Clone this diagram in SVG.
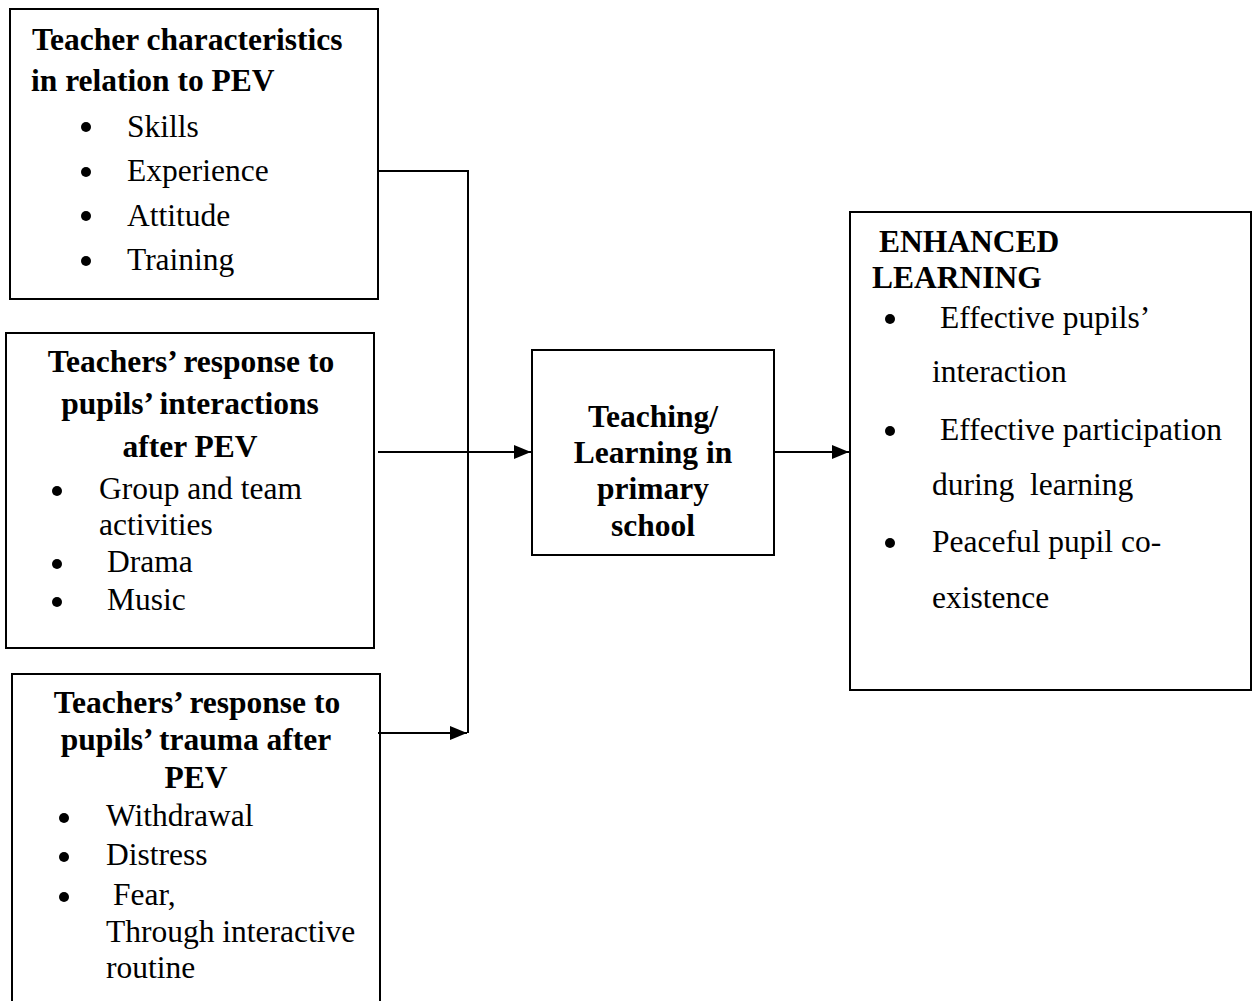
<svg xmlns="http://www.w3.org/2000/svg" width="1255" height="1001" viewBox="0 0 1255 1001">
<style>
.box{fill:#fff;stroke:#000;stroke-width:2}
.t{font-family:"Liberation Serif","Times New Roman",serif;font-size:31.5px;fill:#000}
.b{font-weight:bold}
.c{text-anchor:middle}
.line{fill:none;stroke:#000;stroke-width:2}
.dot{fill:#000}
</style>
<defs>
<marker id="arr" markerUnits="userSpaceOnUse" markerWidth="20" markerHeight="16" refX="17" refY="7" orient="auto">
<path d="M0,0 L17,7 L0,14 z" fill="#000"/>
</marker>
</defs>
<rect width="1255" height="1001" fill="#fff"/>

<g id="teacher-characteristics">
<rect class="box" x="10" y="9" width="368" height="290"/>
<text class="t b" x="32" y="50">Teacher characteristics</text>
<text class="t b" x="31" y="91">in relation to PEV</text>
<circle class="dot" cx="86" cy="127" r="5"/><text class="t" x="127" y="137">Skills</text>
<circle class="dot" cx="86" cy="172" r="5"/><text class="t" x="127" y="181">Experience</text>
<circle class="dot" cx="86" cy="216" r="5"/><text class="t" x="127" y="226">Attitude</text>
<circle class="dot" cx="86" cy="261" r="5"/><text class="t" x="127" y="270">Training</text>
</g>

<g id="pupils-interactions">
<rect class="box" x="6" y="333" width="368" height="315"/>
<text class="t b c" x="191" y="372">Teachers’ response to</text>
<text class="t b c" x="190" y="414">pupils’ interactions</text>
<text class="t b c" x="190" y="457">after PEV</text>
<circle class="dot" cx="57" cy="491" r="5"/><text class="t" x="99" y="499">Group and team</text>
<text class="t" x="99" y="535">activities</text>
<circle class="dot" cx="57" cy="564" r="5"/><text class="t" x="107" y="572">Drama</text>
<circle class="dot" cx="57" cy="602" r="5"/><text class="t" x="107" y="610">Music</text>
</g>

<g id="pupils-trauma">
<rect class="box" x="12" y="674" width="368" height="340"/>
<text class="t b c" x="197" y="713">Teachers’ response to</text>
<text class="t b c" x="196" y="750">pupils’ trauma after</text>
<text class="t b c" x="196" y="788">PEV</text>
<circle class="dot" cx="64" cy="818" r="5"/><text class="t" x="106" y="826">Withdrawal</text>
<circle class="dot" cx="64" cy="857" r="5"/><text class="t" x="106" y="865">Distress</text>
<circle class="dot" cx="64" cy="897" r="5"/><text class="t" x="113" y="905">Fear,</text>
<text class="t" x="106" y="942">Through interactive</text>
<text class="t" x="106" y="978">routine</text>
</g>

<g id="teaching-learning">
<rect class="box" x="532" y="350" width="242" height="205"/>
<text class="t b c" x="653" y="427">Teaching/</text>
<text class="t b c" x="653" y="463">Learning in</text>
<text class="t b c" x="653" y="499">primary</text>
<text class="t b c" x="653" y="536">school</text>
</g>

<g id="enhanced-learning">
<rect class="box" x="850" y="212" width="401" height="478"/>
<text class="t b" x="879" y="252">ENHANCED</text>
<text class="t b" x="872" y="288">LEARNING</text>
<circle class="dot" cx="890" cy="319" r="5"/><text class="t" x="940" y="328">Effective pupils’</text>
<text class="t" x="932" y="382">interaction</text>
<circle class="dot" cx="890" cy="431" r="5"/><text class="t" x="940" y="440">Effective participation</text>
<text class="t" x="932" y="495" xml:space="preserve">during  learning</text>
<circle class="dot" cx="890" cy="543" r="5"/><text class="t" x="932" y="552">Peaceful pupil co-</text>
<text class="t" x="932" y="608">existence</text>
</g>

<g id="connectors">
<polyline class="line" points="379,171 468,171 468,733"/>
<line class="line" x1="378" y1="452" x2="531" y2="452" marker-end="url(#arr)"/>
<line class="line" x1="774" y1="452" x2="849" y2="452" marker-end="url(#arr)"/>
<line class="line" x1="378" y1="733" x2="467" y2="733" marker-end="url(#arr)"/>
</g>
</svg>
